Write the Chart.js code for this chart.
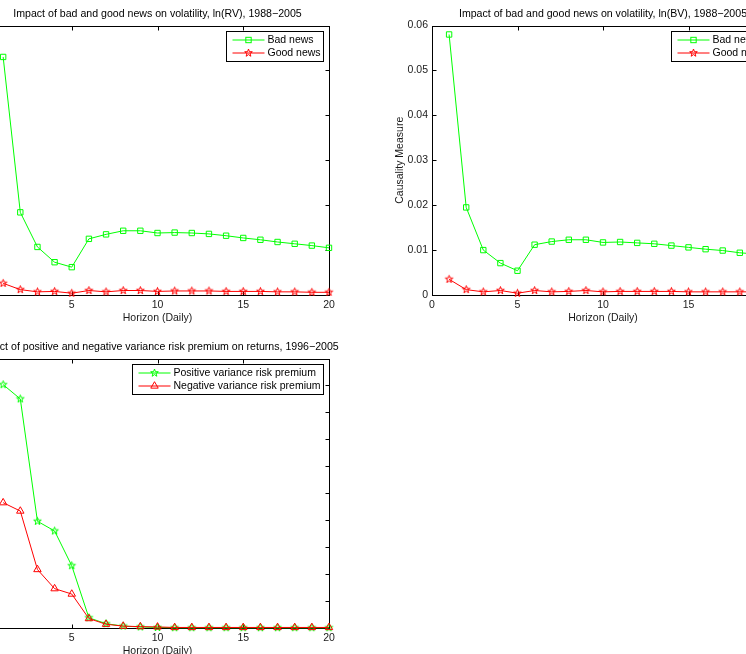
<!DOCTYPE html>
<html lang="en">
<head>
<meta charset="UTF-8">
<title>Causality measures by horizon</title>
<script src="https://cdn.jsdelivr.net/npm/chart.js"></script>
<style>
  html, body { margin: 0; padding: 0; background: #fff; }
  body { width: 746px; height: 654px; position: relative; overflow: hidden; }
  .panel { position: absolute; }
</style>
</head>
<body>
  <!-- top left: ln(RV) -->
  <div class="panel" style="left:-64px; top:0px"><canvas id="rv" width="443" height="333"></canvas></div>
  <!-- top right: ln(BV) -->
  <div class="panel" style="left:382px; top:0px"><canvas id="bv" width="442" height="333"></canvas></div>
  <!-- bottom left: variance risk premium -->
  <div class="panel" style="left:-64px; top:333px"><canvas id="vrp" width="443" height="333"></canvas></div>

<script>
const FONT = "'Liberation Sans', Arial, Helvetica, sans-serif";
const GREEN = 'rgb(0,255,0)';
const RED = 'rgb(255,0,0)';

// horizons (days)
const horizon = [1, 2, 3, 4, 5, 6, 7, 8, 9, 10, 11, 12, 13, 14, 15, 16, 17, 18, 19, 20];
const xTicks = [0, 5, 10, 15, 20];

// ln(RV), 1988-2005
const rvBad  = [0.0530, 0.0184, 0.0107, 0.0073, 0.0062, 0.0125, 0.0135, 0.0143, 0.0143, 0.0138,
                0.0139, 0.0138, 0.0136, 0.0132, 0.0127, 0.0123, 0.0118, 0.0114, 0.0110, 0.0105];
const rvGood = [0.0026, 0.0012, 0.0007, 0.0008, 0.0004, 0.0010, 0.0007, 0.0010, 0.0010, 0.0008,
                0.0009, 0.0009, 0.0009, 0.0008, 0.0008, 0.0008, 0.0007, 0.0007, 0.0006, 0.0006];

// ln(BV), 1988-2005
const bvBad  = [0.0580, 0.0195, 0.0100, 0.0071, 0.0054, 0.0112, 0.0119, 0.0123, 0.0123, 0.0117,
                0.0118, 0.0116, 0.0114, 0.0110, 0.0106, 0.0102, 0.0099, 0.0094, 0.0091, 0.0088];
const bvGood = [0.0035, 0.0012, 0.0007, 0.0010, 0.0004, 0.0010, 0.0007, 0.0008, 0.0010, 0.0007,
                0.0008, 0.0008, 0.0008, 0.0008, 0.0007, 0.0007, 0.0007, 0.0007, 0.0007, 0.0007];

// variance risk premium on returns, 1996-2005
const vrpPos = [0.0903, 0.0850, 0.0396, 0.0360, 0.0231, 0.0038, 0.0016, 0.0007, 0.0004, 0.0002,
                0.0001, 0.0001, 0.0001, 0.0001, 0.0001, 0.0001, 0.0001, 0.0001, 0.0001, 0.0001];
const vrpNeg = [0.0465, 0.0434, 0.0217, 0.0146, 0.0126, 0.0035, 0.0014, 0.0007, 0.0005, 0.0004,
                0.0002, 0.0002, 0.0002, 0.0002, 0.0002, 0.0002, 0.0002, 0.0002, 0.0002, 0.0002];

// matlab style pentagram marker
function pentagram(g, x, y, r, color) {
  g.beginPath();
  for (let i = 0; i < 10; i++) {
    const rr = i % 2 ? r * 0.4 : r;
    const a = -Math.PI / 2 + i * Math.PI / 5;
    const px = x + rr * Math.cos(a), py = y + rr * Math.sin(a);
    if (i) g.lineTo(px, py); else g.moveTo(px, py);
  }
  g.closePath();
  g.strokeStyle = color;
  g.lineWidth = 1;
  g.stroke();
}
function starImage(color, r) {
  const c = document.createElement('canvas');
  const s = Math.ceil(2 * r + 3);
  c.width = s; c.height = s;
  pentagram(c.getContext('2d'), s / 2, s / 2, r, color);
  return c;
}
const redStar = starImage(RED, 4);
const greenStar = starImage(GREEN, 4);

function pts(ys) {
  return horizon.map((h, i) => ({ x: h, y: ys[i] }));
}

// box with inward ticks on all four sides
const frame = {
  id: 'frame',
  beforeDatasetsDraw(chart) {
    const { ctx, chartArea: a, scales: { x, y } } = chart;
    const L = Math.round(a.left) + 0.5, R = Math.round(a.right) + 0.5;
    const T = Math.round(a.top) + 0.5, B = Math.round(a.bottom) + 0.5;
    const tl = 4;
    ctx.save();
    ctx.strokeStyle = '#000';
    ctx.lineWidth = 1;
    ctx.beginPath();
    x.ticks.forEach(t => {
      const px = Math.round(x.getPixelForValue(t.value)) + 0.5;
      ctx.moveTo(px, B); ctx.lineTo(px, B - tl);
      ctx.moveTo(px, T); ctx.lineTo(px, T + tl);
    });
    y.ticks.forEach(t => {
      const py = Math.round(y.getPixelForValue(t.value)) + 0.5;
      ctx.moveTo(L, py); ctx.lineTo(L + tl, py);
      ctx.moveTo(R, py); ctx.lineTo(R - tl, py);
    });
    ctx.stroke();
    ctx.strokeRect(L, T, R - L, B - T);
    ctx.restore();
  }
};

// boxed legend in the upper right corner of the axes
const boxLegend = {
  id: 'boxLegend',
  afterDraw(chart) {
    const { ctx, chartArea: a } = chart;
    const sets = chart.data.datasets;
    ctx.save();
    ctx.font = '10.5px ' + FONT;
    const tw = Math.max(...sets.map(d => ctx.measureText(d.label).width));
    const w = 6 + 32 + 3 + tw + 3, h = 30;
    const right = Math.round(a.right) - 6 + 0.5, top = Math.round(a.top + 5.5) + 0.5;
    const left = Math.round(right - w) + 0.5;
    ctx.fillStyle = '#fff';
    ctx.fillRect(left, top, right - left, h);
    ctx.strokeStyle = '#000';
    ctx.lineWidth = 1;
    ctx.strokeRect(left, top, right - left, h);
    sets.forEach((d, i) => {
      const cy = top + 8.5 + i * 13;
      const x0 = left + 6, x1 = x0 + 32, cx = (x0 + x1) / 2;
      ctx.strokeStyle = d.borderColor;
      ctx.beginPath(); ctx.moveTo(x0, cy); ctx.lineTo(x1, cy); ctx.stroke();
      const st = d.pointStyle;
      if (st === 'rect') {
        const s = Math.SQRT1_2 * d.pointRadius;
        ctx.strokeRect(cx - s, cy - s, 2 * s, 2 * s);
      } else if (st === 'triangle') {
        const r = d.pointRadius;
        ctx.beginPath();
        ctx.moveTo(cx, cy - r);
        ctx.lineTo(cx + r * Math.sin(2 * Math.PI / 3), cy - r * Math.cos(2 * Math.PI / 3));
        ctx.lineTo(cx + r * Math.sin(4 * Math.PI / 3), cy - r * Math.cos(4 * Math.PI / 3));
        ctx.closePath();
        ctx.stroke();
      } else {
        pentagram(ctx, cx, cy, 4, d.borderColor);
      }
      ctx.fillStyle = '#000';
      ctx.textBaseline = 'middle';
      ctx.textAlign = 'left';
      ctx.fillText(d.label, x1 + 3, cy + 0.5);
    });
    ctx.restore();
  }
};

function series(label, ys, color, style, radius, order) {
  return {
    label, data: pts(ys),
    borderColor: color, borderWidth: 1, tension: 0,
    pointStyle: style, pointRadius: radius, pointBorderWidth: 1,
    pointBorderColor: color, pointBackgroundColor: 'rgba(0,0,0,0)',
    clip: false, order
  };
}

function makeChart(id, title, titleSize, datasets, yMax, yStep) {
  const font = { family: FONT, size: 10.5 };
  // keep the axes top at 25.5px whatever the title size
  const padTop = 13.9 - titleSize * 0.6;
  const padBottom = 25.5 - padTop - titleSize * 1.2;
  return new Chart(document.getElementById(id), {
    type: 'line',
    data: { datasets },
    plugins: [frame, boxLegend],
    options: {
      responsive: false,
      devicePixelRatio: 1,
      animation: false,
      events: [],
      layout: { padding: 0 },
      plugins: {
        legend: { display: false },
        tooltip: { enabled: false },
        title: {
          display: true, text: title, color: '#000',
          font: { family: FONT, size: titleSize, weight: 'normal' },
          padding: { top: padTop, bottom: padBottom }
        }
      },
      scales: {
        x: {
          type: 'linear', min: 0, max: 20,
          afterBuildTicks: s => { s.ticks = xTicks.map(v => ({ value: v })); },
          ticks: { font, color: '#1a1a1a', padding: 4, maxRotation: 0 },
          grid: { display: false, drawTicks: false },
          border: { display: false },
          title: { display: true, text: 'Horizon (Daily)', font, color: '#1a1a1a', padding: { top: 0, bottom: 9 } },
          afterFit: s => { s.height = 38; }
        },
        y: {
          type: 'linear', min: 0, max: yMax,
          ticks: { stepSize: yStep, font, color: '#1a1a1a', padding: 4 },
          grid: { display: false, drawTicks: false },
          border: { display: false },
          title: { display: true, text: 'Causality Measure', font, color: '#1a1a1a', padding: { top: 12, bottom: 0 } },
          afterFit: s => { s.width = 50; }
        },
        // empty strip on the right so the title centres over the axes
        yPad: {
          type: 'linear', position: 'right',
          ticks: { display: false },
          grid: { display: false, drawTicks: false },
          border: { display: false },
          afterFit: s => { s.width = 50; }
        }
      }
    }
  });
}

makeChart('rv', 'Impact of bad and good news on volatility, ln(RV), 1988\u22122005', 10.6, [
  series('Bad news', rvBad, GREEN, 'rect', 3.8, 1),
  series('Good news', rvGood, RED, redStar, 4, 2)
], 0.06, 0.01);

makeChart('bv', 'Impact of bad and good news on volatility, ln(BV), 1988\u22122005', 10.6, [
  series('Bad news', bvBad, GREEN, 'rect', 3.8, 1),
  series('Good news', bvGood, RED, redStar, 4, 2)
], 0.06, 0.01);

makeChart('vrp', 'Impact of positive and negative variance risk premium on returns, 1996\u22122005', 10.6, [
  series('Positive variance risk premium', vrpPos, GREEN, greenStar, 4, 2),
  series('Negative variance risk premium', vrpNeg, RED, 'triangle', 4.3, 1)
], 0.1, 0.01);
</script>
</body>
</html>
